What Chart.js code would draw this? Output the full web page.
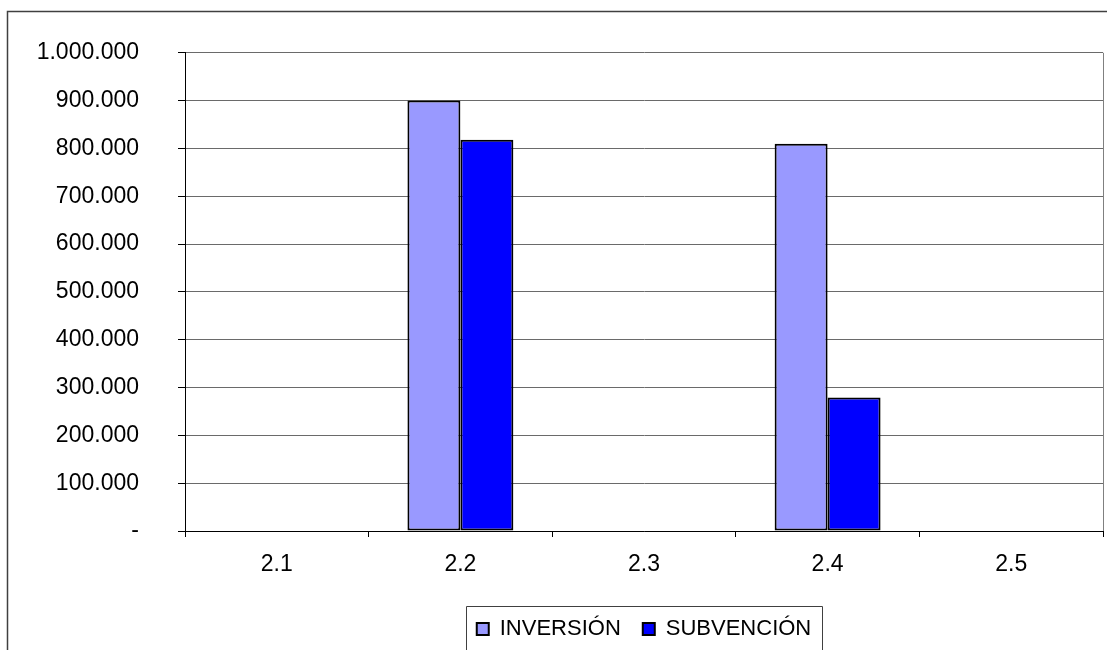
<!DOCTYPE html>
<html>
<head>
<meta charset="utf-8">
<script src="https://cdn.jsdelivr.net/npm/chart.js@4"></script>
<style>
  body { margin: 0; background: #fff; }
  canvas { display: block; }
</style>
</head>
<body>
<canvas id="myBarChart" width="1107" height="650"></canvas>
<script>
const categories = ['2.1', '2.2', '2.3', '2.4', '2.5'];
const inversion = [0, 900000, 0, 810000, 0];
const subvencion = [0, 818000, 0, 279000, 0];
const yTicks = [0, 100000, 200000, 300000, 400000, 500000, 600000, 700000, 800000, 900000, 1000000];

const fontFamily = "'Liberation Sans', Arial, sans-serif";

// formato con punto de miles, cero como guion
function formatNum(v) {
    if (v === 0) return '-';
    return String(v).replace(/\B(?=(\d{3})+(?!\d))/g, '.');
}

// marco exterior, borde derecho del area y caja de la leyenda
const framePlugin = {
    id: 'framePlugin',
    afterDraw(chart) {
        const ctx = chart.ctx;
        const area = chart.chartArea;
        ctx.save();
        ctx.strokeStyle = '#404040';
        ctx.lineWidth = 1.5;
        ctx.beginPath();
        ctx.moveTo(7.5, 650);
        ctx.lineTo(7.5, 11.5);
        ctx.lineTo(1107, 11.5);
        ctx.stroke();

        ctx.strokeStyle = '#808080';
        ctx.lineWidth = 1;
        ctx.beginPath();
        ctx.moveTo(Math.round(area.right) + 0.5, area.top);
        ctx.lineTo(Math.round(area.right) + 0.5, area.bottom);
        ctx.stroke();

        const boxes = chart.legend.legendHitBoxes;
        if (boxes && boxes.length) {
            const first = boxes[0];
            const last = boxes[boxes.length - 1];
            const left = first.left - 11;
            const right = last.left + last.width + 11;
            const top = first.top - 12;
            const bottom = first.top + first.height + 16;
            ctx.strokeStyle = '#404040';
            ctx.beginPath();
            ctx.rect(Math.round(left) + 0.5, Math.round(top) + 0.5, Math.round(right - left), Math.round(bottom - top));
            ctx.stroke();
        }
        ctx.restore();
    }
};

const ctxBar = document.getElementById('myBarChart').getContext('2d');
const myBarChart = new Chart(ctxBar, {
    type: 'bar',
    data: {
        labels: categories,
        datasets: [{
            label: 'INVERSIÓN',
            data: inversion,
            backgroundColor: '#9999FF',
            borderColor: '#000000',
            borderWidth: 2,
            borderSkipped: false
        }, {
            label: 'SUBVENCIÓN',
            data: subvencion,
            backgroundColor: '#0000FF',
            borderColor: '#000000',
            borderWidth: 2,
            borderSkipped: false
        }]
    },
    options: {
        responsive: false,
        animation: false,
        datasets: {
            bar: {
                categoryPercentage: 0.577,
                barPercentage: 1.0
            }
        },
        layout: {
            padding: { top: 50, right: 4, left: 0, bottom: 0 }
        },
        plugins: {
            tooltip: { enabled: false },
            legend: {
                position: 'bottom',
                fullSize: false,
                labels: {
                    color: '#000',
                    font: { family: fontFamily, size: 22 },
                    boxWidth: 12,
                    boxHeight: 12,
                    padding: 22
                }
            }
        },
        scales: {
            x: {
                grid: {
                    offset: true,
                    drawOnChartArea: false,
                    drawTicks: true,
                    tickLength: 6,
                    tickColor: '#000'
                },
                border: { color: '#000', width: 1 },
                ticks: {
                    color: '#000',
                    font: { family: fontFamily, size: 23 },
                    padding: 14,
                    maxRotation: 0
                },
                afterFit(scale) {
                    scale.height = 65;
                }
            },
            y: {
                min: 0,
                max: 1000000,
                afterBuildTicks(scale) {
                    scale.ticks = yTicks.map(v => ({ value: v }));
                },
                grid: {
                    color: '#6a6a6a',
                    tickLength: 7,
                    tickColor: '#000'
                },
                border: { color: '#000', width: 1 },
                ticks: {
                    color: '#000',
                    font: { family: fontFamily, size: 23 },
                    padding: 39,
                    callback: function(value) {
                        return formatNum(value);
                    }
                },
                afterFit(scale) {
                    scale.width = 185;
                }
            }
        }
    },
    plugins: [framePlugin]
});
</script>
</body>
</html>
